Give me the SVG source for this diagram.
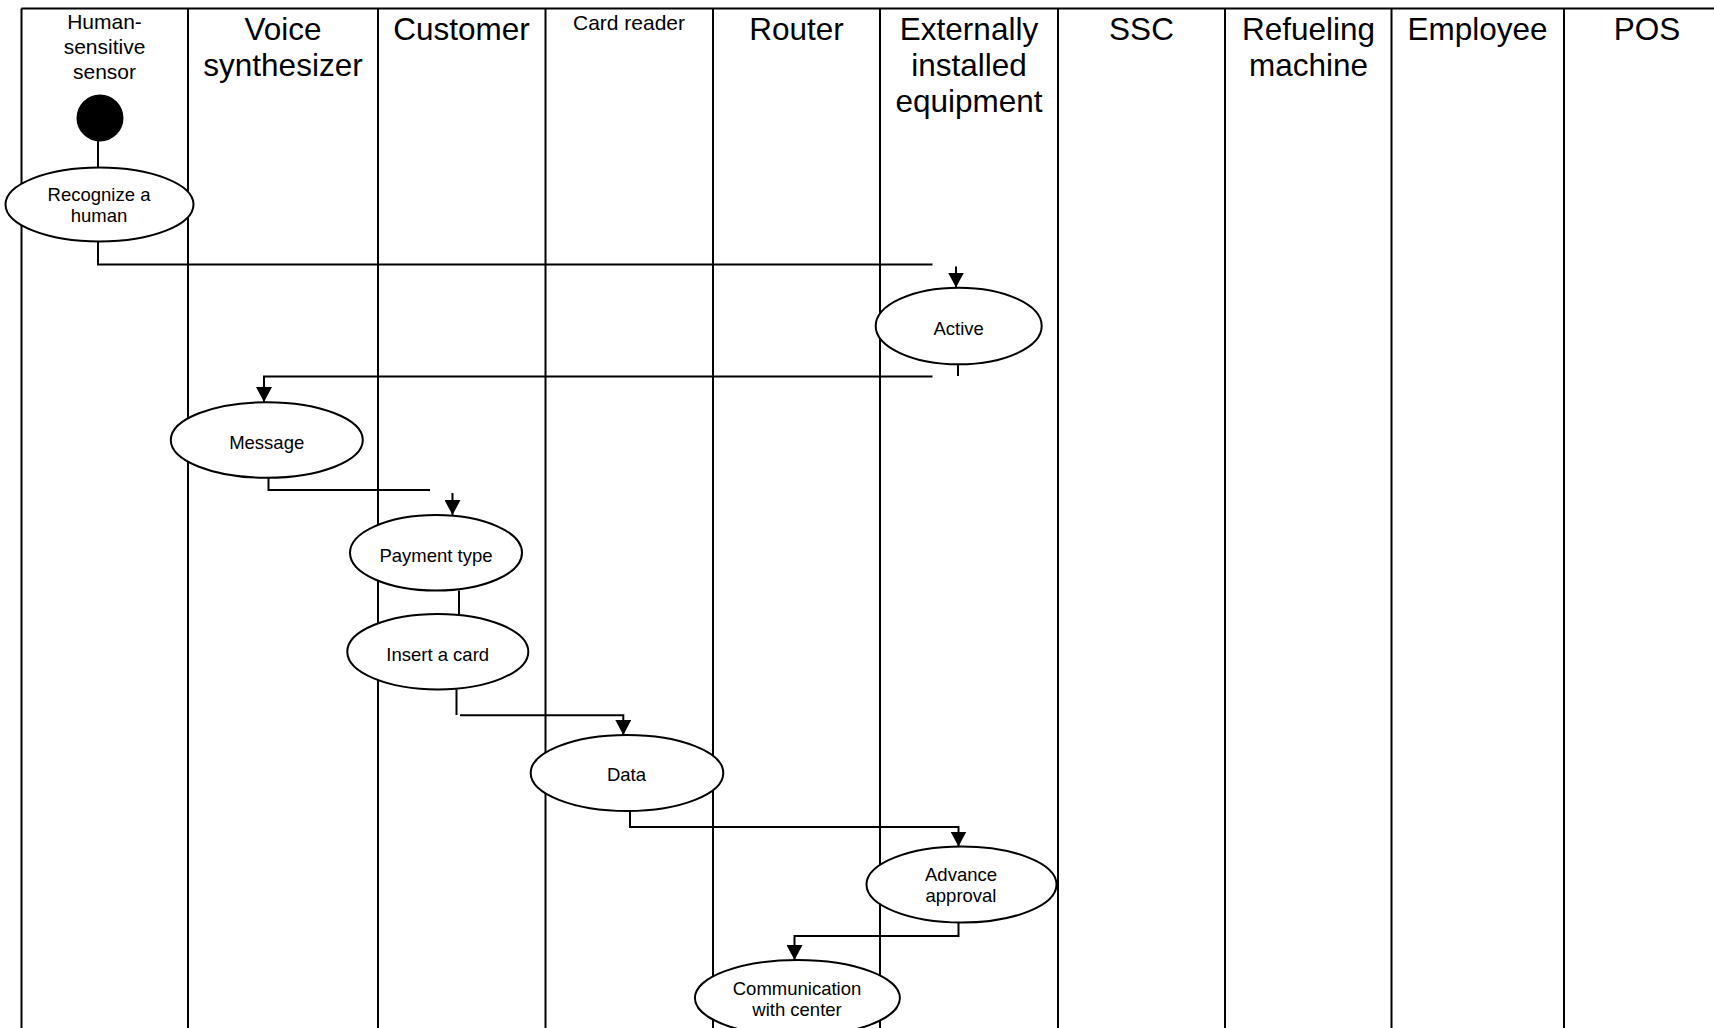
<svg xmlns="http://www.w3.org/2000/svg" width="1714" height="1028" viewBox="0 0 1714 1028">
<style>
.grid{stroke:#000;stroke-width:2;fill:none}
.hl{font-family:"Liberation Sans",Arial,sans-serif;font-size:31.5px;fill:#000;text-anchor:middle}
.hs{font-family:"Liberation Sans",Arial,sans-serif;font-size:21px;fill:#000;text-anchor:middle}
.nd{fill:#fff;stroke:#000;stroke-width:2}
.nt{font-family:"Liberation Sans",Arial,sans-serif;font-size:18.5px;fill:#000;text-anchor:middle}
.cn{stroke:#000;stroke-width:2;fill:none}
</style>
<defs>
<marker id="arr" viewBox="0 0 15 16" refX="15" refY="8" markerWidth="15" markerHeight="16" markerUnits="userSpaceOnUse" orient="auto">
<path d="M0,0 L15,8 L0,16 z" fill="#000"/>
</marker>
</defs>
<rect width="1714" height="1028" fill="#fff"/>
<g id="lanes">
<path class="grid" d="M21.5,8.5 H1714 M21.5,8.5 V1028 M188,8.5 V1028 M378,8.5 V1028 M545.5,8.5 V1028 M713,8.5 V1028 M880,8.5 V1028 M1058,8.5 V1028 M1225,8.5 V1028 M1391.5,8.5 V1028 M1564,8.5 V1028"/>
<text class="hs" x="104.5"><tspan x="104.5" y="29">Human-</tspan><tspan x="104.5" y="53.5">sensitive</tspan><tspan x="104.5" y="78.5">sensor</tspan></text>
<text class="hl" x="283"><tspan x="283" y="39.5">Voice</tspan><tspan x="283" y="76">synthesizer</tspan></text>
<text class="hl" x="461.5" y="39.5">Customer</text>
<text class="hs" x="629" y="29.5">Card reader</text>
<text class="hl" x="796.5" y="39.5">Router</text>
<text class="hl" x="969"><tspan x="969" y="39.5">Externally</tspan><tspan x="969" y="76">installed</tspan><tspan x="969" y="112">equipment</tspan></text>
<text class="hl" x="1141.5" y="39.5">SSC</text>
<text class="hl" x="1308.5"><tspan x="1308.5" y="39.5">Refueling</tspan><tspan x="1308.5" y="76">machine</tspan></text>
<text class="hl" x="1477.5" y="39.5">Employee</text>
<text class="hl" x="1647" y="39.5">POS</text>
</g>
<g id="connectors">
<path class="cn" d="M98,141 V167"/>
<path class="cn" d="M98,241.5 V264.5 H932.5"/>
<path class="cn" d="M956,266.5 V287.5" marker-end="url(#arr)"/>
<path class="cn" d="M958,364 V376"/>
<path class="cn" d="M932.5,376.5 H264 V402" marker-end="url(#arr)"/>
<path class="cn" d="M268.5,477.5 V490 H430"/>
<path class="cn" d="M452.5,493 V515" marker-end="url(#arr)"/>
<path class="cn" d="M459,590.5 V614.5"/>
<path class="cn" d="M456.5,689.5 V715"/>
<path class="cn" d="M460,715.3 H623.3 V735" marker-end="url(#arr)"/>
<path class="cn" d="M630,811 V827 H958.5 V846.5" marker-end="url(#arr)"/>
<path class="cn" d="M958.5,922.5 V936 H794.5 V960" marker-end="url(#arr)"/>
</g>
<g id="start"><circle cx="100" cy="118" r="23.5" fill="#000"/></g>
<g id="n-recognize"><ellipse class="nd" cx="99.5" cy="204.5" rx="94" ry="37"/><text class="nt"><tspan x="99" y="200.5">Recognize a</tspan><tspan x="99" y="221.5">human</tspan></text></g>
<g id="n-active"><ellipse class="nd" cx="958.7" cy="326" rx="83" ry="38.3"/><text class="nt" x="958.7" y="334.5">Active</text></g>
<g id="n-message"><ellipse class="nd" cx="266.8" cy="440" rx="96" ry="37.8"/><text class="nt" x="266.7" y="448.5">Message</text></g>
<g id="n-payment"><ellipse class="nd" cx="436" cy="552.8" rx="86" ry="37.8"/><text class="nt" x="436" y="562">Payment type</text></g>
<g id="n-insert"><ellipse class="nd" cx="437.8" cy="651.7" rx="90.5" ry="37.7"/><text class="nt" x="437.7" y="660.8">Insert a card</text></g>
<g id="n-data"><ellipse class="nd" cx="627" cy="773" rx="96.3" ry="38"/><text class="nt" x="626.5" y="781">Data</text></g>
<g id="n-advance"><ellipse class="nd" cx="961.5" cy="884.5" rx="95" ry="38"/><text class="nt"><tspan x="961" y="880.5">Advance</tspan><tspan x="961" y="901.5">approval</tspan></text></g>
<g id="n-comm"><ellipse class="nd" cx="797.4" cy="998" rx="102.5" ry="38"/><text class="nt"><tspan x="797" y="994.5">Communication</tspan><tspan x="797" y="1015.5">with center</tspan></text></g>
</svg>
